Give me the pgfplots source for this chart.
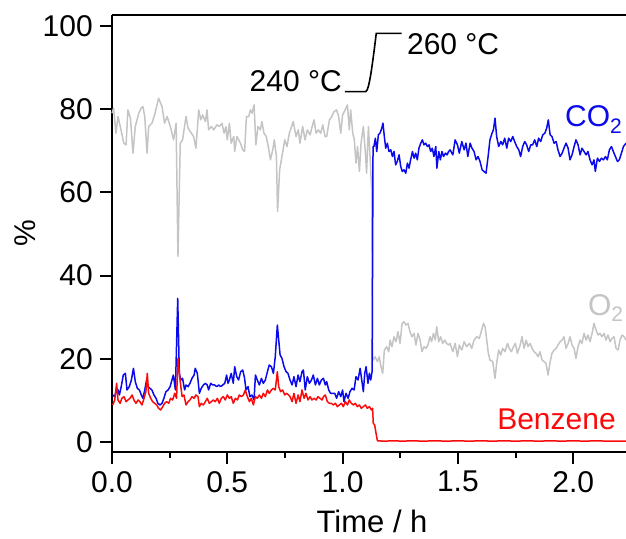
\documentclass[border=0pt]{standalone}
\usepackage{fontspec}
\setmainfont{Liberation Sans}
\usepackage{pgfplots}
\pgfplotsset{compat=1.18}
\definecolor{otwo}{RGB}{196,196,196}
\definecolor{cotwo}{RGB}{10,10,235}
\definecolor{benz}{RGB}{250,10,10}
\newcommand\bigf{\fontsize{30}{36}\selectfont}
\begin{document}
\begin{tikzpicture}[x=1pt,y=1pt]
\begin{axis}[
  at={(112pt,86pt)}, anchor=south west,
  scale only axis, width=514pt, height=437pt,
  xmin=0, xmax=2.229, ymin=-2.4, ymax=102.6,
  axis x line*=bottom, axis y line*=left,
  x axis line style={-}, y axis line style={-},
  axis line style={line width=2pt, black},
  clip=false,
  tick align=outside,
  major tick length=12pt, minor tick length=6pt,
  every tick/.style={line width=2pt, black},
  xtick={0,0.5,1,1.5,2},
  minor xtick={0.25,0.75,1.25,1.75},
  ytick={0,20,40,60,80,100},
  /pgf/number format/assume math mode=true,
  every tick label/.append style={font=\bigf, inner sep=4pt},
  xticklabel style={yshift=-3pt, /pgf/number format/.cd, fixed, fixed zerofill, precision=1},
  yticklabel style={xshift=-3pt},
  xlabel={Time / h}, ylabel={\%},
  xlabel style={at={(axis description cs:0.506,-0.185)}, anchor=base, inner sep=0pt, font=\fontsize{31}{37}\selectfont},
  ylabel style={at={(axis description cs:-0.169,0.5)}, anchor=center, inner sep=0pt, font=\bigf},
]
% O2
\addplot[otwo, line width=1.5pt, line join=round] coordinates {
(0.000,79.0)(0.007,80.2)(0.017,74.2)(0.026,78.2)(0.036,75.8)(0.051,71.8)(0.061,71.4)(0.069,79.8)(0.080,77.8)(0.091,69.4)
(0.101,75.8)(0.116,79.0)(0.126,80.2)(0.134,80.6)(0.142,78.2)(0.152,69.4)(0.159,75.8)(0.173,76.6)(0.185,78.6)(0.202,82.6)
(0.217,80.6)(0.228,76.6)(0.239,78.2)(0.253,75.8)(0.267,72.6)(0.278,76.6)(0.286,44.6)(0.296,71.8)(0.306,72.6)(0.321,78.2)
(0.330,75.4)(0.344,74.2)(0.354,73.4)(0.364,70.6)(0.376,79.8)(0.385,77.4)(0.393,78.6)(0.405,77.0)(0.412,79.8)(0.419,75.0)
(0.431,75.8)(0.441,75.0)(0.455,76.2)(0.465,75.8)(0.477,76.6)(0.486,74.2)(0.494,75.8)(0.500,72.6)(0.509,76.6)(0.517,71.8)
(0.528,73.4)(0.532,69.8)(0.542,73.4)(0.557,71.8)(0.567,70.2)(0.575,69.8)(0.583,78.2)(0.593,78.2)(0.600,79.8)(0.607,79.0)
(0.616,81.0)(0.624,71.4)(0.633,75.8)(0.643,75.0)(0.650,77.0)(0.659,74.2)(0.669,73.4)(0.679,70.6)(0.687,67.8)(0.697,70.2)
(0.704,72.6)(0.713,68.6)(0.718,55.4)(0.727,65.4)(0.737,68.6)(0.749,72.6)(0.759,71.0)(0.769,74.2)(0.786,77.0)(0.798,73.4)
(0.808,75.0)(0.815,71.8)(0.827,75.8)(0.837,72.6)(0.847,75.0)(0.859,73.8)(0.870,76.2)(0.876,77.4)(0.885,74.2)(0.895,75.0)
(0.905,74.2)(0.914,76.2)(0.924,73.4)(0.931,73.4)(0.943,77.4)(0.953,78.2)(0.963,79.4)(0.974,79.8)(0.983,78.2)(0.992,74.2)
(1.000,78.6)(1.011,79.8)(1.021,81.0)(1.029,75.0)(1.035,79.8)(1.044,74.2)(1.051,72.6)(1.058,67.0)(1.065,71.0)(1.073,65.0)
(1.080,71.8)(1.090,75.8)(1.099,69.4)(1.104,64.6)(1.112,75.8)(1.119,68.6)(1.126,60.6)(1.130,20.5)(1.133,19.7)(1.141,20.5)
(1.151,19.3)(1.159,20.5)(1.165,18.5)(1.174,16.5)(1.181,22.1)(1.191,22.9)(1.200,21.7)(1.206,24.5)(1.214,22.9)(1.223,25.3)
(1.232,24.1)(1.240,26.5)(1.249,23.7)(1.258,28.5)(1.266,28.9)(1.275,28.1)(1.284,28.5)(1.292,26.5)(1.301,25.3)(1.310,26.1)
(1.318,23.3)(1.327,26.1)(1.336,24.5)(1.344,21.7)(1.353,22.9)(1.362,22.5)(1.370,23.3)(1.379,25.3)(1.386,24.1)(1.394,26.1)
(1.402,24.5)(1.408,27.7)(1.417,24.1)(1.425,25.3)(1.434,23.7)(1.443,24.5)(1.451,23.7)(1.460,23.3)(1.466,23.7)(1.478,21.7)
(1.488,23.7)(1.498,20.5)(1.506,23.3)(1.517,22.1)(1.527,24.1)(1.538,22.9)(1.550,23.7)(1.560,22.5)(1.570,24.5)(1.582,25.3)
(1.593,24.9)(1.603,26.9)(1.611,28.5)(1.618,27.7)(1.625,24.5)(1.632,21.3)(1.639,19.7)(1.651,19.3)(1.661,15.3)(1.668,18.9)
(1.677,22.1)(1.686,20.9)(1.694,22.5)(1.704,21.7)(1.715,23.7)(1.723,22.5)(1.732,21.7)(1.741,22.9)(1.749,23.7)(1.758,21.3)
(1.770,23.3)(1.778,25.3)(1.787,22.5)(1.796,24.5)(1.804,22.9)(1.813,23.7)(1.822,22.5)(1.830,21.7)(1.839,21.3)(1.848,20.5)
(1.856,21.7)(1.865,19.7)(1.874,19.3)(1.882,18.9)(1.891,16.1)(1.900,19.3)(1.908,21.3)(1.917,22.1)(1.926,22.5)(1.934,23.3)
(1.943,24.1)(1.952,24.5)(1.960,25.3)(1.969,22.5)(1.978,23.7)(1.986,25.3)(1.995,23.3)(2.004,22.5)(2.012,20.1)(2.021,22.9)
(2.030,24.5)(2.038,23.7)(2.047,26.1)(2.056,24.5)(2.064,25.7)(2.073,24.1)(2.082,26.1)(2.090,28.5)(2.099,26.9)(2.108,25.7)
(2.116,26.1)(2.125,25.3)(2.134,26.1)(2.142,24.5)(2.151,25.7)(2.160,24.1)(2.168,24.9)(2.177,25.3)(2.186,22.5)(2.195,22.1)
(2.203,24.5)(2.212,25.7)(2.221,25.3)(2.229,24.5)
};
% CO2
\addplot[cotwo, line width=1.5pt, line join=round] coordinates {
(0.003,11.3)(0.012,10.9)(0.020,12.9)(0.026,12.5)(0.032,11.3)(0.040,13.3)(0.049,16.1)(0.058,16.5)(0.065,12.5)(0.075,13.3)
(0.084,14.9)(0.093,17.7)(0.101,14.5)(0.110,12.9)(0.119,12.5)(0.127,11.3)(0.134,10.5)(0.142,12.5)(0.150,14.9)(0.156,13.3)
(0.165,12.9)(0.173,12.5)(0.182,11.3)(0.191,10.5)(0.199,9.3)(0.208,8.9)(0.217,9.3)(0.225,10.5)(0.234,12.1)(0.243,12.5)
(0.252,13.3)(0.260,14.9)(0.266,16.1)(0.275,12.5)(0.285,34.5)(0.292,16.5)(0.298,14.9)(0.306,15.3)(0.315,12.5)(0.321,13.7)
(0.330,13.3)(0.338,14.1)(0.347,15.3)(0.356,16.1)(0.361,17.7)(0.370,16.5)(0.379,11.7)(0.387,12.9)(0.396,13.7)(0.405,14.1)
(0.413,13.7)(0.419,12.5)(0.428,14.1)(0.437,13.7)(0.445,13.7)(0.454,13.3)(0.463,13.7)(0.471,13.3)(0.480,13.7)(0.489,14.1)
(0.497,16.1)(0.503,14.1)(0.509,14.9)(0.517,16.5)(0.526,14.1)(0.532,18.1)(0.541,15.7)(0.549,14.9)(0.558,16.9)(0.567,17.3)
(0.575,15.3)(0.581,12.5)(0.590,13.3)(0.598,10.9)(0.607,11.3)(0.616,10.1)(0.622,16.1)(0.630,14.9)(0.639,13.7)(0.648,15.3)
(0.656,14.1)(0.665,14.9)(0.674,16.9)(0.682,18.5)(0.691,18.1)(0.700,16.5)(0.708,20.5)(0.717,28.1)(0.723,24.5)(0.729,20.9)
(0.737,20.1)(0.746,18.1)(0.755,16.9)(0.763,16.5)(0.772,14.9)(0.781,13.7)(0.789,15.7)(0.798,13.3)(0.807,16.1)(0.815,14.5)
(0.824,16.9)(0.830,17.3)(0.838,12.5)(0.847,15.7)(0.856,14.1)(0.865,14.9)(0.873,16.1)(0.882,13.7)(0.891,15.3)(0.899,13.7)
(0.908,14.9)(0.917,15.3)(0.925,13.7)(0.931,14.5)(0.940,12.5)(0.948,11.7)(0.957,11.7)(0.966,11.7)(0.974,10.5)(0.983,12.1)
(0.992,10.9)(1.000,12.5)(1.006,9.7)(1.015,11.7)(1.024,10.5)(1.032,12.1)(1.041,12.9)(1.050,12.5)(1.058,15.7)(1.067,14.9)
(1.076,17.7)(1.081,15.7)(1.090,12.1)(1.096,16.5)(1.102,18.1)(1.110,14.1)(1.116,16.5)(1.122,14.9)(1.128,17.0)(1.132,71.0)
(1.136,71.0)(1.142,73.0)(1.148,69.8)(1.155,73.8)(1.162,74.2)(1.170,75.4)(1.175,76.6)(1.181,73.4)(1.187,70.6)(1.194,71.8)
(1.201,69.8)(1.209,70.2)(1.216,68.6)(1.223,69.8)(1.230,66.6)(1.237,67.4)(1.245,69.0)(1.252,66.2)(1.259,65.0)(1.266,65.4)
(1.274,64.6)(1.281,67.0)(1.288,65.8)(1.295,67.8)(1.303,69.8)(1.310,68.2)(1.317,69.4)(1.324,67.8)(1.331,70.6)(1.339,71.8)
(1.346,72.6)(1.353,71.4)(1.360,71.8)(1.368,71.0)(1.375,71.4)(1.382,69.8)(1.389,70.6)(1.396,68.6)(1.404,71.0)(1.409,65.8)
(1.417,69.8)(1.424,67.8)(1.431,69.8)(1.438,68.6)(1.446,69.4)(1.453,69.0)(1.460,69.8)(1.466,70.2)(1.478,69.0)(1.488,72.6)
(1.498,71.4)(1.506,69.4)(1.517,72.2)(1.527,70.2)(1.535,71.8)(1.543,68.6)(1.553,71.8)(1.561,70.6)(1.570,69.8)(1.579,67.8)
(1.587,68.6)(1.596,67.4)(1.605,65.4)(1.613,65.0)(1.622,64.6)(1.631,68.6)(1.639,72.6)(1.648,74.2)(1.654,75.0)(1.661,77.8)
(1.668,73.4)(1.677,71.0)(1.686,72.2)(1.694,71.4)(1.703,73.0)(1.712,70.6)(1.720,73.0)(1.729,72.2)(1.738,73.4)(1.746,72.2)
(1.755,71.0)(1.764,70.2)(1.772,68.6)(1.781,71.0)(1.790,72.2)(1.798,71.4)(1.807,69.8)(1.816,71.4)(1.824,71.4)(1.833,72.6)
(1.842,71.0)(1.850,73.0)(1.859,72.2)(1.868,73.8)(1.877,74.2)(1.885,75.4)(1.892,77.4)(1.900,73.8)(1.908,73.4)(1.917,71.8)
(1.926,72.2)(1.934,70.2)(1.943,68.6)(1.952,69.4)(1.960,70.6)(1.969,71.8)(1.978,70.6)(1.986,67.8)(1.995,69.0)(2.004,71.0)
(2.012,72.6)(2.021,71.4)(2.030,69.0)(2.038,70.6)(2.047,69.8)(2.056,69.0)(2.064,69.8)(2.073,67.8)(2.082,66.6)(2.090,67.8)
(2.096,65.0)(2.105,68.2)(2.114,67.4)(2.122,68.2)(2.131,67.8)(2.140,68.6)(2.148,67.8)(2.157,70.2)(2.166,71.0)(2.174,69.8)
(2.183,68.6)(2.192,67.4)(2.200,67.8)(2.209,69.4)(2.218,71.0)(2.229,71.8)
};
% Benzene
\addplot[benz, line width=1.5pt, line join=round] coordinates {
(0.003,8.9)(0.012,10.1)(0.020,14.1)(0.026,10.1)(0.035,9.3)(0.043,10.5)(0.052,10.9)(0.061,9.7)(0.069,10.1)(0.078,10.5)
(0.087,11.3)(0.095,10.1)(0.104,9.3)(0.113,10.1)(0.121,9.7)(0.130,8.9)(0.139,10.5)(0.147,12.1)(0.153,16.5)(0.159,11.7)
(0.168,10.5)(0.176,9.7)(0.185,9.3)(0.194,8.9)(0.202,8.1)(0.211,7.7)(0.220,8.5)(0.228,9.3)(0.237,9.7)(0.246,9.3)
(0.254,10.5)(0.263,10.1)(0.272,11.7)(0.280,10.5)(0.286,20.1)(0.295,14.9)(0.304,10.9)(0.312,11.3)(0.321,8.9)(0.330,9.7)
(0.338,10.1)(0.347,10.9)(0.356,10.5)(0.364,11.3)(0.373,10.9)(0.379,8.5)(0.387,9.3)(0.396,8.9)(0.405,9.7)(0.413,10.5)
(0.422,9.3)(0.431,9.7)(0.439,10.1)(0.448,9.7)(0.457,10.5)(0.465,9.3)(0.474,10.5)(0.483,10.9)(0.491,10.1)(0.500,11.3)
(0.509,10.5)(0.517,10.9)(0.526,9.3)(0.535,10.5)(0.544,10.1)(0.552,11.3)(0.561,10.9)(0.570,11.3)(0.578,12.5)(0.587,10.9)
(0.596,9.7)(0.604,10.5)(0.613,8.9)(0.622,10.9)(0.630,10.5)(0.639,11.3)(0.648,10.5)(0.656,11.7)(0.665,10.9)(0.674,12.5)
(0.682,11.7)(0.691,12.5)(0.700,12.9)(0.708,12.5)(0.717,16.9)(0.723,13.3)(0.731,12.1)(0.740,12.5)(0.749,11.3)(0.757,11.7)
(0.766,11.3)(0.772,10.9)(0.781,9.7)(0.789,11.7)(0.798,9.3)(0.807,11.3)(0.815,9.7)(0.824,12.5)(0.833,10.5)(0.841,11.7)
(0.850,10.1)(0.859,10.9)(0.867,10.1)(0.876,10.5)(0.885,10.1)(0.893,10.9)(0.902,10.5)(0.911,10.1)(0.917,10.9)(0.925,11.3)
(0.934,9.7)(0.943,9.3)(0.951,9.3)(0.960,8.9)(0.969,9.3)(0.977,8.5)(0.986,8.9)(0.995,9.3)(1.003,8.5)(1.012,9.7)
(1.021,8.9)(1.029,10.1)(1.038,9.3)(1.047,8.9)(1.055,9.3)(1.064,8.5)(1.073,8.9)(1.081,8.1)(1.090,8.5)(1.099,8.9)
(1.107,8.1)(1.116,8.5)(1.125,7.7)(1.130,8.1)(1.133,4.5)(1.139,4.1)(1.145,2.1)(1.151,0.3)(1.180,0.2)(1.220,0.3)
(1.260,0.2)(1.300,0.3)(1.350,0.2)(1.400,0.3)(1.450,0.2)(1.500,0.3)(1.550,0.2)(1.600,0.3)(1.650,0.2)(1.700,0.3)
(1.750,0.2)(1.800,0.3)(1.850,0.2)(1.900,0.3)(1.950,0.2)(2.000,0.3)(2.050,0.2)(2.100,0.3)(2.150,0.2)(2.229,0.2)
};
\draw[line width=2pt, black] (rel axis cs:0,1) -- (rel axis cs:1,1);
\node[anchor=base east, inner sep=0pt, font=\bigf] at (axis cs:0.997,84.1) {240 °C};
\node[anchor=base west, inner sep=0pt, font=\bigf] at (axis cs:1.279,93.0) {260 °C};
\draw[line width=1.6pt, black] (axis cs:1.010,84.2) -- (axis cs:1.100,84.2)
  .. controls (axis cs:1.114,84.2) and (axis cs:1.128,90.0) .. (axis cs:1.146,98.2) -- (axis cs:1.256,98.2);
\node[anchor=base west, inner sep=0pt, font=\bigf, text=cotwo] at (axis cs:1.964,75.7) {CO\textsubscript{2}};
\node[anchor=base west, inner sep=0pt, font=\bigf, text=otwo] at (axis cs:2.064,30.3) {O\textsubscript{2}};
\node[anchor=base west, inner sep=0pt, font=\bigf, text=benz] at (axis cs:1.670,2.9) {Benzene};
\end{axis}
\pgfresetboundingbox
\useasboundingbox (0,0) rectangle (626pt,538pt);
\end{tikzpicture}
\end{document}
